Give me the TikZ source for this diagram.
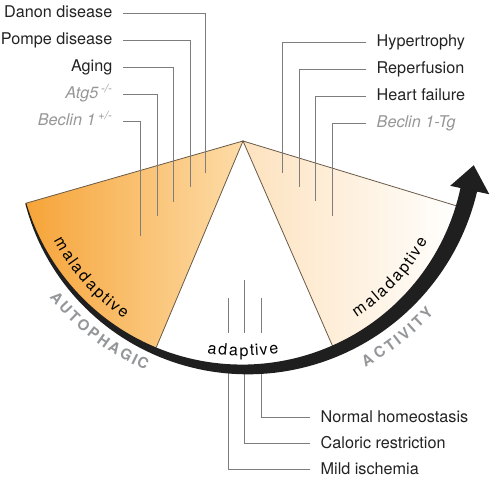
\documentclass[tikz,border=0pt]{standalone}
\usepackage{fontspec}
\setmainfont{TeX Gyre Heros}
\usetikzlibrary{decorations.text}
\definecolor{orgdeep}{RGB}{246,164,56}
\definecolor{orglight}{RGB}{253,220,168}
\definecolor{peach}{RGB}{253,226,190}
\definecolor{edgebrown}{RGB}{105,90,72}
\definecolor{leadgray}{RGB}{125,125,125}
\definecolor{txtgray}{RGB}{150,150,150}
\definecolor{capgray}{RGB}{148,150,153}
\definecolor{txtdark}{RGB}{35,35,35}
\tikzset{%
    lbl/.style={font=\fontsize{16.2}{19}\selectfont, text=txtdark, text height=13pt, text depth=3pt, inner ysep=0pt, inner xsep=10.5pt},
    lbg/.style={lbl, text=txtgray, font=\fontsize{16.2}{19}\selectfont\itshape},
    ldr/.style={draw=leadgray, line width=0.9pt},
    edg/.style={draw=edgebrown, line width=0.8pt},
    band/.style={fill=black!88},
    arctxt/.style={decorate, decoration={text effects along path, text={#1},
        text effects/.cd, fit text to path, characters={anchor=base, inner sep=0pt, transform shape}}},
}

\begin{document}
\begin{tikzpicture}[x=1pt, y=1pt,
    declare function={rc(\t)=226+5*(\t-196)/151.8; wd(\t)=1+16*pow((\t-195.9)/151.9,0.85);}]
    \useasboundingbox (0,0) rectangle (490,-484);
    \coordinate (O) at (243,-141);
    % the two coloured sectors
    \begin{scope}[shift={(O)}]
        \shade[left color=orgdeep, right color=orglight] (0,0) -- (196:226) arc[start angle=196, end angle=247.2, radius=226] -- cycle;
        \shade[left color=peach, right color=white] (0,0) -- (293.6:226) arc[start angle=293.6, end angle=343.1, radius=226] -- cycle;
        \draw[edg] (196:226) -- (0,0) -- (247.2:224);
        \draw[edg] (293.6:224) -- (0,0) -- (343.1:224);
    \end{scope}
    % labels on the left
    \node[lbl, anchor=east] (danon) at (123,-13) {Danon disease};
    \node[lbl, anchor=east] (pompe) at (123,-40) {Pompe disease};
    \node[lbl, anchor=east] (aging) at (123,-67) {Aging};
    \node[lbg, anchor=east] (atg) at (123,-94) {Atg5\,\textsuperscript{-/-}};
    \node[lbg, anchor=east] (becl) at (123,-121) {Beclin 1\,\textsuperscript{+/-}};
    \coordinate (dn) at (205,-173);
    \coordinate (pm) at (190,-187);
    \coordinate (ag) at (173,-202);
    \coordinate (at) at (157,-216);
    \coordinate (bc) at (140,-236);
    \draw[ldr] (danon.east) -| (dn);
    \draw[ldr] (pompe.east) -| (pm);
    \draw[ldr] (aging.east) -| (ag);
    \draw[ldr] (atg.east) -| (at);
    \draw[ldr] (becl.east) -| (bc);
    % labels on the right
    \node[lbl, anchor=west] (hyper) at (366,-42) {Hypertrophy};
    \node[lbl, anchor=west] (reperf) at (366,-69) {Reperfusion};
    \node[lbl, anchor=west] (hf) at (366,-96) {Heart failure};
    \node[lbg, anchor=west] (bectg) at (366,-123) {Beclin 1-Tg};
    \coordinate (hy) at (282,-173);
    \coordinate (rp) at (299,-187);
    \coordinate (hfe) at (315,-201);
    \coordinate (bt) at (332,-216);
    \draw[ldr] (hyper.west) -| (hy);
    \draw[ldr] (reperf.west) -| (rp);
    \draw[ldr] (hf.west) -| (hfe);
    \draw[ldr] (bectg.west) -| (bt);
    % labels below
    \node[lbl, anchor=west] (normal) at (310,-417) {Normal homeostasis};
    \node[lbl, anchor=west] (caloric) at (310,-443) {Caloric restriction};
    \node[lbl, anchor=west] (mild) at (310,-469) {Mild ischemia};
    \coordinate (nh) at (261,-366);
    \coordinate (cr) at (244,-366);
    \coordinate (mi) at (228,-366);
    \draw[ldr] (normal.west) -| (nh);
    \draw[ldr] (caloric.west) -| (cr);
    \draw[ldr] (mild.west) -| (mi);
    \coordinate (mtop) at (228,-298);
    \coordinate (ctop) at (244,-280);
    \coordinate (ntop) at (261,-298);
    \draw[ldr] (mtop) -- (mtop|-0,-333);
    \draw[ldr] (ctop) -- (ctop|-0,-333);
    \draw[ldr] (ntop) -- (ntop|-0,-333);
    % the tapering arrow
    \begin{scope}[shift={(O)}]
        \fill[band] plot[domain=196:347.8, samples=90] (\x:{rc(\x)+wd(\x)/2})
            -- (347.8:252) -- (354:232) -- (347.8:212)
            -- plot[domain=347.8:196, samples=90] (\x:{rc(\x)-wd(\x)/2}) -- cycle;
        \begin{scope}[font=\fontsize{16}{18}\selectfont, text=black]
            \path[arctxt=maladaptive] (207.8:214) arc[start angle=207.8, end angle=236.3, radius=214];
            \path[arctxt=maladaptive] (302.7:210) arc[start angle=302.7, end angle=331.5, radius=210];
            \path[arctxt=adaptive] (260.4:215) arc[start angle=260.4, end angle=279.6, radius=215];
        \end{scope}
        \begin{scope}[font=\fontsize{15}{17}\selectfont\bfseries, text=capgray]
            \path[arctxt=AUTOPHAGIC] (219:249) arc[start angle=219, end angle=247, radius=249];
            \path[arctxt=ACTIVITY] (298.4:257) arc[start angle=298.4, end angle=318, radius=257];
        \end{scope}
    \end{scope}
\end{tikzpicture}
\end{document}
